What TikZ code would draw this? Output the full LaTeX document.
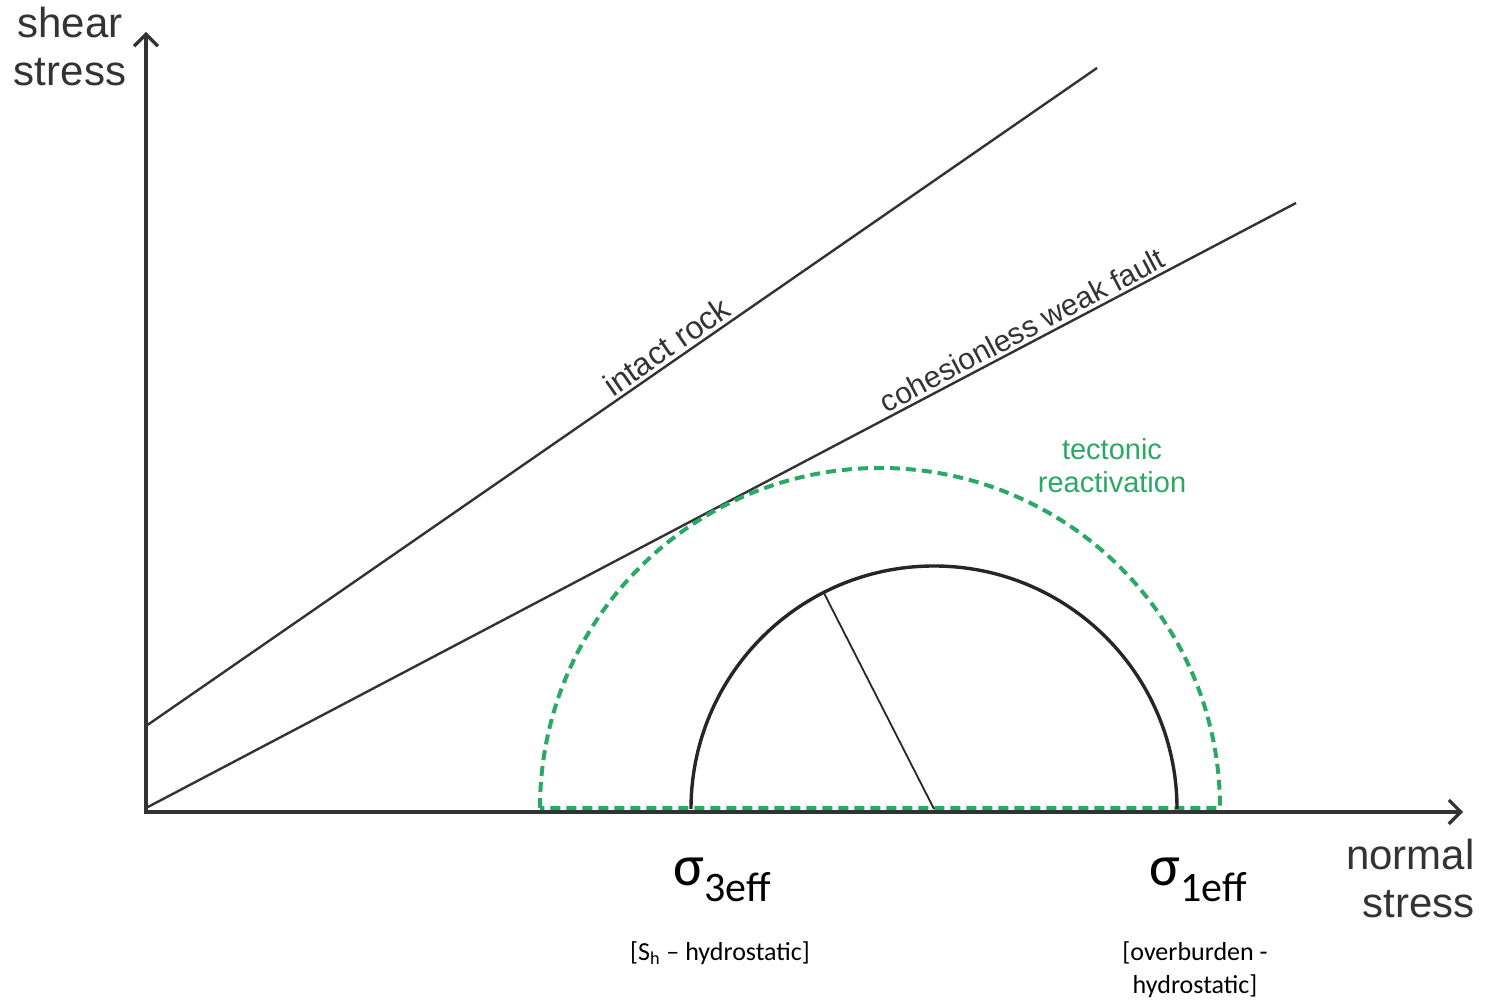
\documentclass[tikz,border=0pt]{standalone}
\usepackage{fontspec}
\setmainfont{Liberation Sans}
\newfontfamily\calib{Carlito}
\usetikzlibrary{arrows.meta,calc}
\definecolor{axisgray}{HTML}{333333}
\definecolor{tgreen}{HTML}{2AA866}
\tikzset{
  axisline/.style={draw=axisgray, line width=2pt, -{Straight Barb[length=6pt,width=12pt,line width=1.6pt]}},
  envline/.style={draw=axisgray, line width=1.2pt},
  circblack/.style={draw=black!85, line width=1.7pt},
  circgreen/.style={draw=tgreen, line width=2pt, dash pattern=on 5pt off 3pt},
  radline/.style={draw=black!85, line width=0.9pt},
  axlabel/.style={text=axisgray, font=\fontsize{21}{24}\selectfont, inner sep=0pt},
  linelabel/.style={text=axisgray, inner sep=1.5pt, sloped, above},
  greenlabel/.style={text=tgreen, font=\fontsize{14.5}{16.5}\selectfont, inner sep=0pt, align=center},
  siglabel/.style={text=black, font=\calib, inner sep=0pt},
  brlabel/.style={text=black, font=\calib\fontsize{13}{16.5}\selectfont, inner sep=0pt, align=center}
}
\newcommand{\sigmalab}[1]{{\fontsize{29}{29}\selectfont σ}{\fontsize{21}{21}\selectfont\raisebox{-8pt}{#1}}}
\begin{document}
\begin{tikzpicture}[x=0.5pt,y=0.5pt]
\useasboundingbox (0,0) rectangle (1487,1000);
% coordinates
\coordinate (O) at (146,188);
\coordinate (ytop) at (146,968);
\coordinate (xend) at (1463,188);
\coordinate (irA) at (146,274);
\coordinate (irB) at (1097,932);
\coordinate (cwA) at (146,192);
\coordinate (cwB) at (1296,797);
\coordinate (gL) at (540,192);
\coordinate (bL) at (691,191);
\coordinate (bC) at (934,191);
\coordinate (bP) at ($(bC)+(117:243)$);
% envelopes
\draw[envline] (irA) -- node[linelabel, font=\fontsize{16}{18}\selectfont, pos=0.557] (irlab) {intact rock} (irB);
\draw[envline] (cwA) -- node[linelabel, font=\fontsize{15}{18}\selectfont, pos=0.768] (cwlab) {cohesionless weak fault} (cwB);
% green circle
\draw[circgreen] (gL) arc[start angle=180, end angle=0, radius=340] -- cycle;
% black circle
\draw[circblack] (bL) arc[start angle=180, end angle=0, radius=243];
\draw[radline] (bC) -- (bP);
% axes
\draw[axisline] ([yshift=-1pt]O) -- (ytop);
\draw[axisline] ([xshift=-1pt]O) -- (xend);
% labels
\node[axlabel, align=center] (shear) at (70,953) {shear\\stress};
\node[axlabel, align=right, anchor=east] (normal) at (1475,122) {normal\\stress};
\node[greenlabel] (tect) at (1112,534) {tectonic\\reactivation};
\node[siglabel] (s3) at (722,120) {\sigmalab{3eff}};
\node[siglabel] (s1) at (1198,120) {\sigmalab{1eff}};
\node[brlabel] (b3) at (720,47) {[S\textsubscript{h} – hydrostatic]};
\node[brlabel] (b1) at (1195,30) {[overburden -\\hydrostatic]};
\end{tikzpicture}
\end{document}
